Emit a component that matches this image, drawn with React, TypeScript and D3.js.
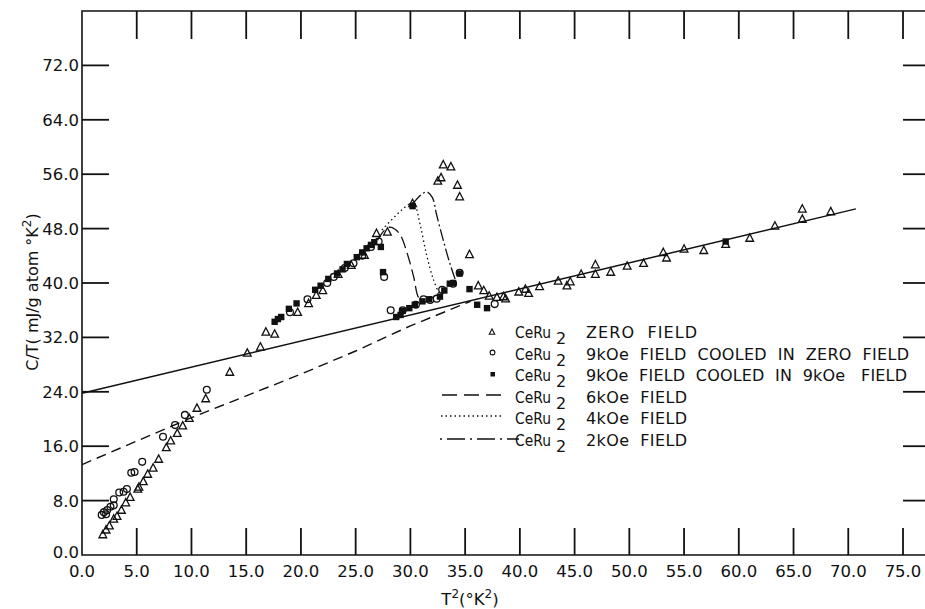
import React from "react";
import * as d3 from "d3";

type P = [number, number];

// Zero-field data (triangles)
const zeroField: P[] = [
  [1.9, 3.0], [2.2, 3.7], [2.5, 4.3], [2.9, 5.3], [3.2, 5.7], [3.6, 6.6], [4.0, 7.7], [4.4, 8.5],
  [5.1, 9.7], [5.2, 10.0], [5.6, 10.8], [6.0, 11.9], [6.5, 12.8], [7.0, 14.1], [7.7, 15.8], [8.1, 16.8],
  [8.7, 17.9], [9.2, 19.0], [9.8, 20.1], [10.5, 21.6], [11.3, 23.0], [13.5, 26.9], [15.1, 29.7],
  [16.3, 30.6], [16.8, 32.8], [17.6, 32.5], [19.7, 35.7], [20.7, 37.0], [21.4, 38.2], [22.0, 38.9],
  [23.4, 41.3], [24.6, 42.6], [25.8, 44.1], [26.9, 47.3], [27.9, 47.5], [30.2, 51.7], [32.5, 55.0],
  [32.8, 55.5], [33.0, 57.4], [33.7, 57.1], [34.3, 54.4], [34.5, 52.7], [35.4, 44.2], [36.2, 39.6],
  [36.7, 38.9], [37.2, 38.1], [37.9, 37.9], [38.5, 38.0], [38.7, 37.7], [39.9, 38.7], [40.5, 39.1],
  [40.8, 38.5], [41.8, 39.5], [43.5, 40.3], [44.3, 39.6], [44.6, 40.2], [45.6, 41.3], [46.9, 42.7],
  [46.9, 41.3], [48.3, 41.6], [49.8, 42.5], [51.3, 42.9], [53.1, 44.5], [53.4, 43.7], [55.0, 45.0],
  [56.8, 44.8], [58.8, 45.7], [61.0, 46.6], [63.3, 48.4], [65.8, 50.9], [65.8, 49.4], [68.4, 50.5],
];

// 9 kOe, cooled in zero field (open circles)
const cooledZero: P[] = [
  [1.8, 5.9], [2.0, 6.3], [2.2, 6.0], [2.3, 6.6], [2.6, 7.1], [2.9, 8.2], [2.9, 7.3], [3.4, 9.2],
  [3.8, 9.3], [4.1, 9.7], [4.5, 12.1], [4.8, 12.2], [5.5, 13.7], [7.4, 17.4], [8.5, 19.1], [9.4, 20.6],
  [11.4, 24.3], [19.0, 35.7], [20.6, 37.6], [22.4, 40.0], [23.0, 40.9], [24.0, 42.2], [24.8, 42.9],
  [25.6, 44.0], [26.4, 45.3], [27.1, 46.1], [27.6, 40.9], [28.2, 36.0], [29.3, 36.0], [30.5, 36.8],
  [31.2, 37.6], [31.8, 37.5], [32.4, 37.7], [32.9, 39.0], [33.9, 39.9], [34.5, 41.5], [37.7, 36.9],
];

// 9 kOe, cooled in 9 kOe (filled squares)
const cooledField: P[] = [
  [17.6, 34.3], [17.9, 34.7], [18.2, 35.0], [18.9, 36.2], [19.6, 37.0], [21.3, 39.0], [21.8, 39.6],
  [22.5, 40.6], [23.3, 41.4], [23.8, 42.0], [24.2, 42.8], [25.1, 43.8], [25.6, 44.5], [26.0, 45.1],
  [26.4, 45.6], [26.7, 46.0], [27.3, 45.3], [27.5, 41.6], [30.2, 51.3], [28.7, 35.0], [29.1, 35.3],
  [29.3, 35.9], [29.9, 36.3], [30.4, 36.8], [31.1, 37.3], [31.7, 37.6], [32.7, 38.0], [33.1, 38.9],
  [33.6, 39.9], [33.9, 40.0], [34.5, 41.4], [35.4, 39.1], [36.1, 36.8], [37.0, 36.3], [58.8, 46.1],
];

// Field curves
const field6k: P[] = [[27.0, 46.3], [27.6, 47.7], [28.1, 48.2], [28.6, 47.9], [29.1, 47.0], [29.7, 44.4], [30.3, 40.9], [30.7, 38.0], [31.0, 37.5]];
const field4k: P[] = [[27.4, 47.8], [30.1, 51.8], [30.4, 51.5], [30.9, 48.5], [31.5, 44.0], [32.1, 40.5], [32.6, 38.5]];
const field2k: P[] = [[30.2, 51.6], [31.0, 53.0], [31.5, 53.4], [32.0, 52.6], [32.4, 50.0], [33.0, 46.3], [33.6, 42.9], [34.1, 40.5]];

// Fitted lines
const normalLine: P[] = [[0, 23.8], [70.7, 50.9]];
const superLine: P[] = [[0, 13.3], [10, 20.2], [20, 26.6], [25, 30.0], [30, 33.7], [35.5, 37.3]];

const xTicks = [0, 5, 10, 15, 20, 25, 30, 35, 40, 45, 50, 55, 60, 65, 70, 75];
const yTicks = [0, 8, 16, 24, 32, 40, 48, 56, 64, 72];

const legendRows = [
  "ZERO  FIELD",
  "9kOe  FIELD  COOLED  IN  ZERO  FIELD",
  "9kOe  FIELD  COOLED  IN  9kOe   FIELD",
  "6kOe  FIELD",
  "4kOe  FIELD",
  "2kOe  FIELD",
];

const W = 925, H = 609;
const FONT = "DejaVu Sans, Verdana, sans-serif";

export default function App() {
  const x = d3.scaleLinear().domain([0, 75]).range([82, 903]);
  const y = d3.scaleLinear().domain([0, 80]).range([555, 11]);
  const frameRight = 930;
  const line = d3.line<P>().x((d) => x(d[0])).y((d) => y(d[1]));
  const smooth = d3.line<P>().x((d) => x(d[0])).y((d) => y(d[1])).curve(d3.curveCatmullRom.alpha(0.5));
  const tri = (cx: number, cy: number, s: number) =>
    `M${cx},${cy - s * 0.6}L${cx + s * 0.55},${cy + s * 0.45}L${cx - s * 0.55},${cy + s * 0.45}Z`;

  const legendY = [338, 359.5, 381, 402.5, 424, 445.5];
  const legendLen = [111, 323, 321, 101, 101, 101];

  return (
    <svg width={W} height={H} style={{ position: "absolute", left: 0, top: 0, background: "#fff" }} fontFamily={FONT}>
      {/* frame */}
      <path d={`M${frameRight},${y(80)}H${x(0)}V${y(0)}H${frameRight}`} fill="none" stroke="#111" strokeWidth={1.6} />
      {/* x ticks bottom & top */}
      {xTicks.filter((t) => t > 0).map((t) => (
        <g key={"xt" + t} stroke="#111" strokeWidth={1.8}>
          <line x1={x(t)} x2={x(t)} y1={y(0)} y2={y(0) - 27} />
          <line x1={x(t)} x2={x(t)} y1={y(80)} y2={y(80) + 28} />
        </g>
      ))}
      {/* y ticks left & right */}
      {yTicks.filter((t) => t > 0).map((t) => (
        <g key={"yt" + t} stroke="#111" strokeWidth={1.8}>
          <line x1={x(0)} x2={x(0) + 27} y1={y(t)} y2={y(t)} />
          <line x1={frameRight} x2={frameRight - 27} y1={y(t)} y2={y(t)} />
        </g>
      ))}
      {/* tick labels */}
      {xTicks.map((t) => (
        <text key={"xl" + t} x={x(t)} y={577} textAnchor="middle" fontSize={16.5} fill="#111">
          {t.toFixed(1)}
        </text>
      ))}
      {yTicks.map((t) => (
        <text key={"yl" + t} x={79} y={t === 0 ? y(t) + 3 : y(t) + 6} textAnchor="end" fontSize={16.5} fill="#111">
          {t.toFixed(1)}
        </text>
      ))}
      {/* axis titles */}
      <text x={470} y={605} textAnchor="middle" fontSize={16.5} fill="#111">
        T<tspan dy={-7} fontSize={12}>2</tspan><tspan dy={7}>(°K</tspan><tspan dy={-7} fontSize={12}>2</tspan><tspan dy={7}>)</tspan>
      </text>
      <text transform="translate(38,292) rotate(-90)" textAnchor="middle" fontSize={16} fill="#111">
        C/T( mJ/g  atom °K<tspan dy={-7} fontSize={12}>2</tspan><tspan dy={7}>)</tspan>
      </text>

      {/* fitted lines */}
      <path d={line(normalLine) || ""} fill="none" stroke="#111" strokeWidth={1.5} />
      <path d={line(superLine) || ""} fill="none" stroke="#111" strokeWidth={1.4} strokeDasharray="10,6" />
      {/* field curves */}
      <path d={smooth(field6k) || ""} fill="none" stroke="#111" strokeWidth={1.3} strokeDasharray="12,5" />
      <path d={smooth(field4k) || ""} fill="none" stroke="#111" strokeWidth={1.3} strokeDasharray="1.5,3" />
      <path d={smooth(field2k) || ""} fill="none" stroke="#111" strokeWidth={1.3} strokeDasharray="12,3,2,3" />

      {/* data markers */}
      {zeroField.map((d, i) => (
        <path key={"z" + i} d={tri(x(d[0]), y(d[1]), 7)} fill="none" stroke="#111" strokeWidth={1.3} />
      ))}
      {cooledZero.map((d, i) => (
        <circle key={"c" + i} cx={x(d[0])} cy={y(d[1])} r={3.4} fill="none" stroke="#111" strokeWidth={1.3} />
      ))}
      {cooledField.map((d, i) => (
        <rect key={"f" + i} x={x(d[0]) - 3.2} y={y(d[1]) - 3.2} width={6.4} height={6.4} fill="#111" />
      ))}

      {/* legend */}
      <path d={tri(492, 332, 5)} fill="none" stroke="#111" strokeWidth={1.1} />
      <circle cx={492.5} cy={352.5} r={2.4} fill="none" stroke="#111" strokeWidth={1.1} />
      <rect x={490.5} y={372} width={4.5} height={4.5} fill="#111" />
      <line x1={442} x2={502} y1={395} y2={395} stroke="#111" strokeWidth={1.3} strokeDasharray="15,7" />
      <line x1={441} x2={501} y1={416} y2={416} stroke="#111" strokeWidth={1.3} strokeDasharray="1.5,3" />
      <line x1={440} x2={519} y1={439} y2={439} stroke="#111" strokeWidth={1.3} strokeDasharray="2,5,18,5" />
      {legendRows.map((r, i) => (
        <g key={"lg" + i} fontSize={16} fill="#111">
          <text x={515} y={legendY[i]} textLength={36} lengthAdjust="spacingAndGlyphs">CeRu</text>
          <text x={556} y={legendY[i] + 6}>2</text>
          <text x={586} y={legendY[i]} textLength={legendLen[i]} lengthAdjust="spacing" style={{ whiteSpace: "pre" }}>
            {r}
          </text>
        </g>
      ))}
    </svg>
  );
}
